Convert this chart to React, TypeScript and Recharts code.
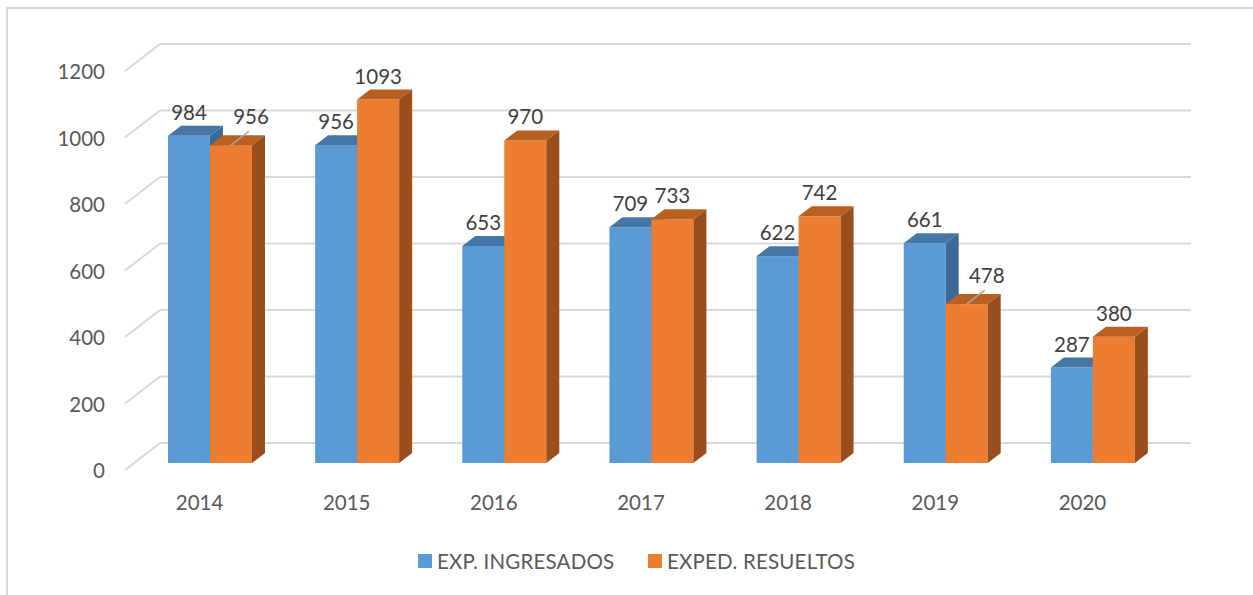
import { BarChart, Bar, XAxis, YAxis, CartesianGrid, LabelList } from 'recharts';

const years = ['2014', '2015', '2016', '2017', '2018', '2019', '2020'];
const ingresados = [984, 956, 653, 709, 622, 661, 287];
const resueltos = [956, 1093, 970, 733, 742, 478, 380];
const yTicks = [0, 200, 400, 600, 800, 1000, 1200];

const data = years.map((year, i) => ({
  year,
  ingresados: ingresados[i],
  resueltos: resueltos[i],
}));

const FONT = 'Lato, "Open Sans", sans-serif';
const DX = 13;
const DY = 10;
const GRID = '#D9D9D9';

// labels that Excel pushed aside with a leader line
const movedLabels = [0, 5];

function makeBox(front: string, top: string, side: string) {
  return (props: any) => {
    const { x, y, width, height } = props;
    if (height == null || width == null) return null;
    const r = x + width;
    const b = y + height;
    return (
      <g>
        <rect x={x} y={y} width={width} height={height} fill={front} />
        <polygon
          points={`${x},${y} ${x + DX},${y - DY} ${r + DX},${y - DY} ${r},${y}`}
          fill={top}
        />
        <polygon
          points={`${r},${y} ${r + DX},${y - DY} ${r + DX},${b - DY} ${r},${b}`}
          fill={side}
        />
      </g>
    );
  };
}

const BlueBox = makeBox('#5B9BD5', '#4577A6', '#3D6892');
const OrangeBox = makeBox('#ED7D31', '#B95F22', '#9A4E1C');

function makeLabel(moved: boolean) {
  return (props: any) => {
    const { x, y, width, value, index } = props;
    const cx = x + width / 2;
    if (moved && movedLabels.includes(index)) {
      return (
        <g>
          <line x1={cx} y1={y} x2={cx + 18} y2={y - 14} stroke="#A6A6A6" strokeWidth={1.5} />
          <text
            x={cx + 20}
            y={y - 29}
            textAnchor="middle"
            dominantBaseline="central"
            fill="#404040"
            fontSize={20.5}
            fontFamily={FONT}
          >
            {value}
          </text>
        </g>
      );
    }
    return (
      <text
        x={cx}
        y={y - 24}
        textAnchor="middle"
        dominantBaseline="central"
        fill="#404040"
        fontSize={20.5}
        fontFamily={FONT}
      >
        {value}
      </text>
    );
  };
}

function GridLine(props: any) {
  const { y1, x2, index } = props;
  const back = y1 - 20;
  return (
    <g key={`g-${index}`}>
      <line x1={125} y1={y1 + 7} x2={160} y2={back} stroke={GRID} strokeWidth={2} />
      <line x1={160} y1={back} x2={x2 + 25} y2={back} stroke={GRID} strokeWidth={2} />
    </g>
  );
}

function YTick(props: any) {
  const { x, y, payload } = props;
  return (
    <text
      x={x}
      y={y + 7}
      textAnchor="end"
      dominantBaseline="central"
      fill="#595959"
      fontSize={20.5}
      fontFamily={FONT}
    >
      {payload.value}
    </text>
  );
}

function XTick(props: any) {
  const { x, y, payload } = props;
  return (
    <text
      x={x - 10}
      y={y + 39}
      textAnchor="middle"
      dominantBaseline="central"
      fill="#595959"
      fontSize={20.5}
      fontFamily={FONT}
    >
      {payload.value}
    </text>
  );
}

function LegendItem({ color, label, left }: { color: string; label: string; left: number }) {
  return (
    <div
      style={{
        position: 'absolute',
        left,
        top: 549,
        display: 'flex',
        alignItems: 'center',
        gap: 5,
        whiteSpace: 'nowrap',
      }}
    >
      <div style={{ width: 14, height: 14, background: color }} />
      <span style={{ fontFamily: FONT, fontSize: 20.5, letterSpacing: 0.2, color: '#595959' }}>
        {label}
      </span>
    </div>
  );
}

export default function App() {
  return (
    <div
      style={{
        position: 'absolute',
        left: 0,
        top: 0,
        width: 1253,
        height: 595,
        background: '#fff',
        overflow: 'hidden',
      }}
    >
      <div
        style={{
          position: 'absolute',
          left: 6,
          top: 7,
          width: 1260,
          height: 600,
          borderTop: `2px solid ${GRID}`,
          borderLeft: `2px solid ${GRID}`,
        }}
      />
      <div style={{ position: 'absolute', left: 0, top: 0 }}>
        <BarChart
          width={1253}
          height={595}
          data={data}
          margin={{ top: 64, right: 87, bottom: 102, left: 0 }}
          barSize={42}
          barGap={0}
        >
          <CartesianGrid vertical={false} horizontal={GridLine} />
          <XAxis
            dataKey="year"
            height={30}
            axisLine={false}
            tickLine={false}
            tickSize={0}
            tickMargin={0}
            tick={XTick}
          />
          <YAxis
            width={136}
            domain={[0, 1200]}
            ticks={yTicks}
            axisLine={false}
            tickLine={false}
            tickSize={0}
            tickMargin={31}
            tick={YTick}
          />
          <Bar dataKey="ingresados" name="EXP. INGRESADOS" shape={BlueBox} isAnimationActive={false}>
            <LabelList dataKey="ingresados" content={makeLabel(false)} />
          </Bar>
          <Bar dataKey="resueltos" name="EXPED. RESUELTOS" shape={OrangeBox} isAnimationActive={false}>
            <LabelList dataKey="resueltos" content={makeLabel(true)} />
          </Bar>
        </BarChart>
      </div>
      <LegendItem color="#5B9BD5" label="EXP. INGRESADOS" left={418} />
      <LegendItem color="#ED7D31" label="EXPED. RESUELTOS" left={648} />
    </div>
  );
}
